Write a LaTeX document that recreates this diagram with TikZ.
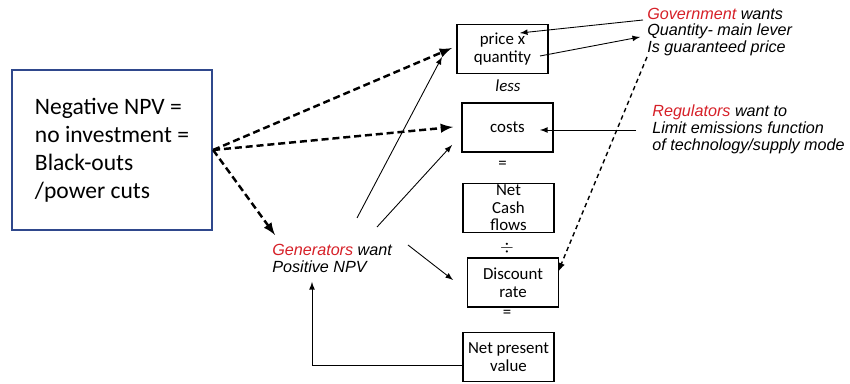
\documentclass[tikz,border=0pt]{standalone}
\usepackage{fontspec}
\setmainfont{Carlito}
\newfontfamily\arialfont{Liberation Sans}
\usepackage{tikz}
\definecolor{gred}{RGB}{214,32,40}
\definecolor{nblue}{RGB}{47,72,140}

\begin{document}
\begin{tikzpicture}[x=0.02cm,y=-0.02cm,>=latex,
  box/.style={draw,line width=.7pt,align=center,inner sep=0pt,minimum width=1.82cm,minimum height=0.98cm,font=\fontsize{9.6}{10}\selectfont},
  sign/.style={inner sep=0pt,font=\fontsize{9.6}{10}\selectfont},
  wants/.style={inner sep=0pt,align=left,anchor=west,font=\arialfont\itshape\fontsize{9.2}{9.6}\selectfont},
  bigdash/.style={->,line width=1.4pt,dash pattern=on 4pt off 2.2pt},
  arr/.style={->,line width=.5pt},
  dots/.style={->,line width=.8pt,dash pattern=on 2.5pt off 2pt}]
\useasboundingbox (0,0) rectangle (850,384);

\node (NPV) [draw=nblue,line width=1.3pt,align=left,minimum width=4cm,minimum height=3.2cm,font=\fontsize{13.4}{16}\selectfont] at (112,150) {Negative NPV =\\no investment =\\Black-outs\\/power cuts};

\draw (502.5,49) node (PQ) [box] {price x\\quantity} +(5.5,37) node (L) [sign,font=\itshape\fontsize{9.6}{10}\selectfont] {less} +(0,116) node (E1) [sign] {=} +(5,78.5) node (C) [box] {costs} +(6,159) node (NCF) [box] {Net\\Cash\\flows} +(4.5,199) node (D) [sign] {$\div$} +(10.5,233.5) node (DR) [box] {Discount\\rate} +(4.5,265) node (E2) [sign] {=} +(6,308) node (PV) [box] {Net present\\value};

\node (G) [wants] at (272,258.5) {\textcolor{gred}{Generators} want\\Positive NPV};
\node (Gov) [wants] at (647,32) {\textcolor{gred}{Government} wants\\Quantity- main lever\\Is guaranteed price};
\node (Reg) [wants] at (652,129) {\textcolor{gred}{Regulators} want to\\Limit emissions function\\of technology/supply mode};

% free ends
\coordinate (g1) at (357,218);
\coordinate (g2) at (377,227);
\coordinate (g3) at (408,245);
\coordinate (gp) at (312,282);
\coordinate (v1) at (643,20);
\coordinate (v2) at (640,37);
\coordinate (v3) at (647,57);
\coordinate (r1) at (636,130);

\draw[bigdash] (NPV.east)--(452,48);
\draw[bigdash] (NPV.east)--(453,127);
\draw[bigdash] (NPV.east)--(275,235);

\draw[arr] (g1)--(442,57);
\draw[arr] (g2)--(452,145);
\draw[arr] (g3)--(453,280);
\draw[arr] ([yshift=-0.16cm]PV.west) -| (gp);

\draw[arr] (v1)--(520,33);
\draw[arr] (540,56)--(v2);
\draw[arr] (r1)--(540,130);
\draw[dots] (v3)--(558,272);
\end{tikzpicture}
\end{document}
